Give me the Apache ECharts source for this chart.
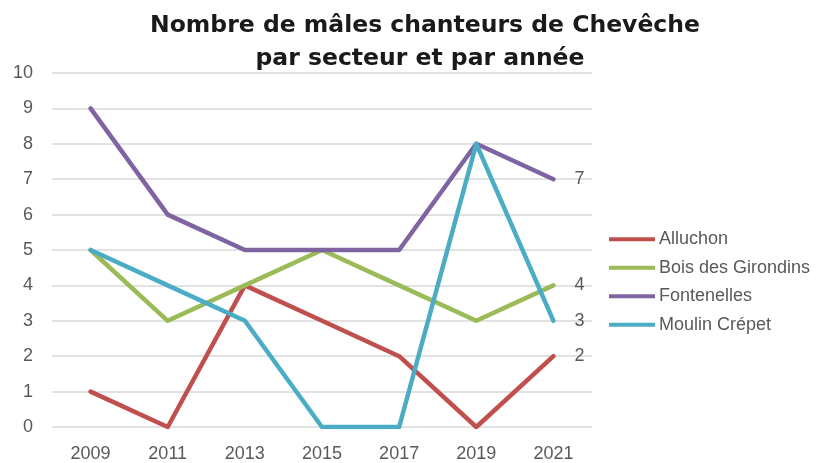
<!DOCTYPE html>
<html><head><meta charset="utf-8">
<script src="https://cdn.jsdelivr.net/npm/echarts@6/dist/echarts.min.js"></script>
<style>html,body{margin:0;padding:0;background:#fff}#c{width:824px;height:463px}</style>
</head><body><div id="c"></div>
<script>
const years = ['2009','2011','2013','2015','2017','2019','2021'];
const alluchon = [1, 0, 4, 3, 2, 0, 2];
const boisGirondins = [5, 3, 4, 5, 4, 3, 4];
const fontenelles = [9, 6, 5, 5, 5, 8, 7];
const moulinCrepet = [5, 4, 3, 0, 0, 8, 3];
const seriesNames = ['Alluchon', 'Bois des Girondins', 'Fontenelles', 'Moulin Crépet'];
const colors = ['#C0504D', '#9BBB59', '#8064A2', '#4BACC6'];
const titleLine1 = 'Nombre de mâles chanteurs de Chevêche';
const titleLine2 = 'par secteur et par année';

const FONT = 'Liberation Sans';
const chart = echarts.init(document.getElementById('c'));
function mk(name, data, color) {
  return {
    name, type: 'line', data, color,
    symbol: 'none', smooth: false,
    lineStyle: { width: 4.5, color, cap: 'round', join: 'round' },
    endLabel: { show: true, formatter: p => p.value, color: '#595959', fontSize: 18,
      fontFamily: FONT, distance: 21 }
  };
}
const tStyle = { fontFamily: 'DejaVu Sans', fontWeight: 'bold', fontSize: 23.5, color: '#1a1a1a' };
chart.setOption({
  animation: false,
  title: [
    { text: titleLine1, left: 425, textAlign: 'center', top: 14, padding: 0, textStyle: tStyle },
    { text: titleLine2, left: 420, textAlign: 'center', top: 47, padding: 0, textStyle: tStyle }
  ],
  legend: {
    orient: 'vertical', left: 609, top: 225, itemGap: 0, padding: 0,
    itemWidth: 46, itemHeight: 4, icon: 'rect',
    textStyle: { color: '#595959', fontSize: 18, fontFamily: FONT, lineHeight: 28.5, padding: [0,0,0,-1] },
    data: seriesNames
  },
  grid: { left: 52, right: 232, top: 73, bottom: 34 },
  xAxis: {
    type: 'category', data: years, boundaryGap: true,
    axisLine: { show: false }, axisTick: { show: false },
    axisLabel: { color: '#595959', fontSize: 18, fontFamily: FONT, margin: 18 }
  },
  yAxis: {
    type: 'value', min: 0, max: 10, interval: 1,
    axisLine: { show: false }, axisTick: { show: false },
    splitLine: { lineStyle: { color: '#d9d9d9', width: 1.5 } },
    axisLabel: { color: '#595959', fontSize: 18, fontFamily: FONT, margin: 19 }
  },
  series: [
    mk(seriesNames[0], alluchon, colors[0]),
    mk(seriesNames[1], boisGirondins, colors[1]),
    mk(seriesNames[2], fontenelles, colors[2]),
    mk(seriesNames[3], moulinCrepet, colors[3])
  ]
});
</script></body></html>
